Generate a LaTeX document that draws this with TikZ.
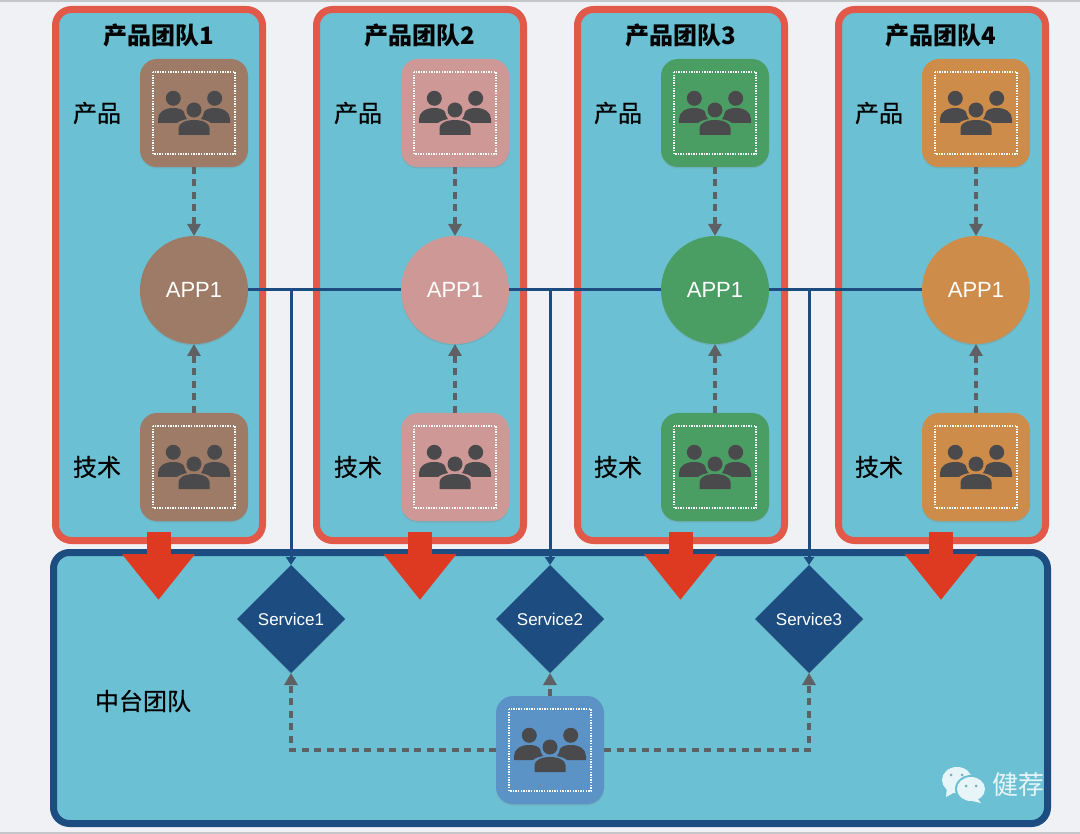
\documentclass[tikz,border=0pt]{standalone}
\usepackage{fontspec}
\setmainfont{Liberation Sans}
\newfontfamily\cjk{Noto Sans CJK SC}
\newfontfamily\cjkm[FakeBold=0.5]{Noto Sans CJK SC}
\usetikzlibrary{arrows.meta,shapes.geometric,shadows}

\definecolor{teamfill}{HTML}{6BC1D3}
\definecolor{teamred}{HTML}{E2594A}
\definecolor{navy}{HTML}{1D4D80}
\definecolor{arrowred}{HTML}{DE3A22}
\definecolor{dashgray}{HTML}{5E6064}
\definecolor{icongray}{HTML}{4A4A4C}
\definecolor{brownc}{HTML}{9E7B66}
\definecolor{pinkc}{HTML}{CE9896}
\definecolor{greenc}{HTML}{4A9E64}
\definecolor{orangec}{HTML}{CE8C4A}
\definecolor{bluec}{HTML}{5B93C7}
\definecolor{pagebg}{HTML}{EFF1F4}
\definecolor{stripc}{HTML}{C4C6CA}
\definecolor{chatc}{HTML}{E8F5F8}

\tikzset{
  people/.pic={
    \begin{scope}[sharp corners]
    \fill[icongray] (-20.7,-14.7) circle (7.5pt) (20.7,-14.7) circle (7.5pt) (0,-3) circle (7.5pt);
    \fill[icongray] (-36,10) -- (-36,6) .. controls (-36,-1) and (-29,-5) .. (-21,-5)
      .. controls (-16,-5) and (-12,-4) .. (-10,-1) .. controls (-9,2) and (-9,4) .. (-7,6)
      .. controls (-11,7) and (-15,8) .. (-17,10) -- cycle;
    \fill[icongray] (36,10) -- (36,6) .. controls (36,-1) and (29,-5) .. (21,-5)
      .. controls (16,-5) and (12,-4) .. (10,-1) .. controls (9,2) and (9,4) .. (7,6)
      .. controls (11,7) and (15,8) .. (17,10) -- cycle;
    \fill[icongray] (-15.5,22) -- (-15.5,15) .. controls (-15.5,10) and (-8,7) .. (0,7)
      .. controls (8,7) and (15.5,10) .. (15.5,15) -- (15.5,22) -- cycle;
    \draw[white,line width=1.4pt,dash pattern=on 1.4pt off 1.2pt] (-41,-41) rectangle (41,41);
    \end{scope}
  }
}

\begin{document}
\begin{tikzpicture}[x=1pt,y=-1pt,node distance=177pt,
  main node/.style={circle,fill=#1,draw=none,minimum size=108pt,inner sep=0pt,outer sep=0pt,text=white,font=\fontsize{22}{22}\selectfont,
    drop shadow={opacity=0.25,shadow xshift=0pt,shadow yshift=-1.5pt}},
  rec node/.style={rectangle,rounded corners=17pt,fill=#1,draw=none,minimum size=108pt,inner sep=0pt,outer sep=0pt,
    drop shadow={opacity=0.25,shadow xshift=0pt,shadow yshift=-1.5pt},
    path picture={\pic at (path picture bounding box.center) {people};}},
  team node/.style={rectangle,rounded corners=16pt,fill=teamfill,draw=#1,line width=7pt,inner sep=0pt,outer sep=0pt},
  svc node/.style={diamond,aspect=1,fill=navy,draw=none,minimum size=108pt,inner sep=0pt,outer sep=0pt,text=white,font=\fontsize{17}{17}\selectfont,
    drop shadow={opacity=0.25,shadow xshift=0pt,shadow yshift=-1pt}},
  title node/.style={font=\cjk\bfseries\fontsize{24}{24}\selectfont,text=black},
  label node/.style={font=\cjkm\fontsize{24}{24}\selectfont,text=black},
  dash edge/.style={draw=dashgray,line width=3.5pt,dash pattern=on 7pt off 5.5pt,-{Triangle[length=12pt,width=13pt,fill=dashgray]}},
  bus edge/.style={draw=navy,line width=3pt},
  big arrow/.style={draw=arrowred,line width=24pt,-{Triangle[length=46pt,width=70pt,fill=arrowred]}}]

  \useasboundingbox (0,0) rectangle (1080,834);
  \fill[pagebg] (0,0) rectangle (1080,834);
  \fill[stripc] (0,0) rectangle (1080,2) (0,832) rectangle (1080,834);

  \node[team node=teamred,minimum width=207pt,minimum height=531pt] (box1) at (159,275) {};
  \node[team node=teamred,minimum width=207pt,minimum height=531pt] (box2) at (420,275) {};
  \node[team node=teamred,minimum width=207pt,minimum height=531pt] (box3) at (681,275) {};
  \node[team node=teamred,minimum width=207pt,minimum height=531pt] (box4) at (942,275) {};
  \node[team node=navy,minimum width=994pt,minimum height=271pt] (box5) at (550.5,688) {};

  \node[title node] (title1) at (159,35) {产品团队1};
  \node[title node] (title2) at (420,35) {产品团队2};
  \node[title node] (title3) at (681,35) {产品团队3};
  \node[title node] (title4) at (941,35) {产品团队4};

  \node[rec node=brownc] (p1) at (194,113) {};
  \node[main node=brownc] (app1) [below of=p1] {APP1};
  \node[rec node=brownc] (t1) [below of=app1] {};
  \node[rec node=pinkc] (p2) at (455,113) {};
  \node[main node=pinkc] (app2) [below of=p2] {APP1};
  \node[rec node=pinkc] (t2) [below of=app2] {};
  \node[rec node=greenc] (p3) at (715,113) {};
  \node[main node=greenc] (app3) [below of=p3] {APP1};
  \node[rec node=greenc] (t3) [below of=app3] {};
  \node[rec node=orangec] (p4) at (976,113) {};
  \node[main node=orangec] (app4) [below of=p4] {APP1};
  \node[rec node=orangec] (t4) [below of=app4] {};

  \node[label node] (lp1) at (97,113) {产品};
  \node[label node] (lt1) at (97,467) {技术};
  \node[label node] (lp2) at (358,113) {产品};
  \node[label node] (lt2) at (358,467) {技术};
  \node[label node] (lp3) at (618,113) {产品};
  \node[label node] (lt3) at (618,467) {技术};
  \node[label node] (lp4) at (879,113) {产品};
  \node[label node] (lt4) at (879,467) {技术};
  \node[label node] (lmid) at (143,701) {中台团队};

  \node[svc node] (s1) at (291,619) {Service1};
  \node[svc node] (s2) at (550,619) {Service2};
  \node[svc node] (s3) at (809,619) {Service3};
  \node[rec node=bluec] (mid) at (550,750) {};

  \coordinate (j1) at (291,290);
  \coordinate (j2) at (550,290);
  \coordinate (j3) at (809,290);
  \coordinate (c1) at (291,750);
  \coordinate (c3) at (809,750);

  \draw[dash edge] (p1) -- (app1);
  \draw[dash edge] (t1) -- (app1);
  \draw[dash edge] (p2) -- (app2);
  \draw[dash edge] (t2) -- (app2);
  \draw[dash edge] (p3) -- (app3);
  \draw[dash edge] (t3) -- (app3);
  \draw[dash edge] (p4) -- (app4);
  \draw[dash edge] (t4) -- (app4);
  \draw[dash edge] (mid) -- (s2);
  \draw[dash edge] (mid.west) -- (c1) -- (s1.south);
  \draw[dash edge] (mid.east) -- (c3) -- (s3.south);

  \draw[bus edge] (app1) -- (app2);
  \draw[bus edge] (app2) -- (app3);
  \draw[bus edge] (app3) -- (app4);
  \draw[bus edge,-{Triangle[length=8pt,width=10pt]}] (j1) -- (s1.north);
  \draw[bus edge,-{Triangle[length=8pt,width=10pt]}] (j2) -- (s2.north);
  \draw[bus edge,-{Triangle[length=8pt,width=10pt]}] (j3) -- (s3.north);

  \coordinate (a1) at (158.5,532); \coordinate (b1) at (158.5,600);
  \coordinate (a2) at (420,532); \coordinate (b2) at (420,600);
  \coordinate (a3) at (680.5,532); \coordinate (b3) at (680.5,600);
  \coordinate (a4) at (941,532); \coordinate (b4) at (941,600);
  \draw[big arrow] (a1) -- (b1);
  \draw[big arrow] (a2) -- (b2);
  \draw[big arrow] (a3) -- (b3);
  \draw[big arrow] (a4) -- (b4);

  % watermark
  \fill[chatc] (957,780) ellipse (15pt and 13pt);
  \fill[chatc] (947,787) -- (946,797) -- (957,791) -- cycle;
  \fill[teamfill] (971,789) ellipse (16pt and 14pt);
  \fill[chatc] (971,789) ellipse (14pt and 12pt);
  \fill[chatc] (976,797) -- (981,803) -- (968,800) -- cycle;
  \fill[teamfill!70!gray] (951,775) circle (1.5pt) (962,775) circle (1.5pt) (966,786) circle (1.5pt) (976,786) circle (1.5pt);
  \node[font=\cjk\fontsize{26}{26}\selectfont,text=chatc] (wm) at (1018,785) {健荐};
\end{tikzpicture}
\end{document}
